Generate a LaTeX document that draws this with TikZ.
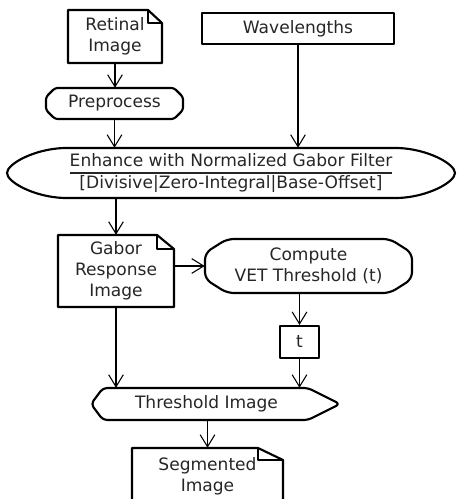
\documentclass[tikz,border=0pt]{standalone}
\usepackage{fontspec}
\setmainfont{DejaVu Sans}
\usetikzlibrary{arrows.meta}
\setlength{\arrayrulewidth}{0.8pt}

\begin{document}
\begin{tikzpicture}[x=0.75pt,y=0.75pt,yscale=-1,xscale=1,
  txt/.style={font=\fontsize{12.8}{15.75}\selectfont, text=black!85, align=center, inner sep=0pt},
  outline/.style={line width=1.6pt, line join=round},
  flow/.style={line width=0.8pt, -{Straight Barb[length=9pt,width=11pt]}}]
%set diagram left start at 0, and has height of 499
\useasboundingbox (0,0) rectangle (458,499);
\clip (0,0) rectangle (458,499);

%Shape: Document [id:retinal]
\draw[outline] (68,10) -- (148,10) -- (162,23) -- (162,63) -- (68,63) -- cycle;
\draw[outline] (148,10) |- (162,23);
%Shape: Process [id:preproc]
\draw[outline, rounded corners=2pt] (55,88) -- (174,88) -- (183,97) -- (183,110) -- (174,119) -- (55,119) -- (46,110) -- (46,97) -- cycle;
%Shape: Process [id:enhance]
\draw[outline] (64,148) -- (398,148) .. controls (428,149) and (455,164) .. (455,173) .. controls (455,182) and (428,197) .. (398,198) -- (64,198) .. controls (34,197) and (7,182) .. (7,173) .. controls (7,164) and (34,149) .. cycle;
%Shape: Document [id:gabor]
\draw[outline] (58,235) -- (157,235) -- (174,249) -- (174,307) -- (58,307) -- cycle;
\draw[outline] (157,235) |- (174,249);
%Shape: Process [id:compute]
\draw[outline, rounded corners=5pt] (227,239) -- (390,239) -- (412,253) -- (412,279) -- (390,293) -- (227,293) -- (205,279) -- (205,253) -- cycle;
%Shape: Process [id:thresh]
\draw[outline, rounded corners=3pt] (103,388) -- (308,388) -- (340,404) -- (308,420) -- (103,420) -- (91,404) -- cycle;
%Shape: Document [id:segm]
\draw[outline] (132,448) -- (258,448) -- (283,460) -- (283,510) -- (132,510) -- cycle;
\draw[outline] (258,448) |- (283,460);

% Text Node
\node[txt, minimum width=70.5pt, minimum height=39.75pt] (retinal) at (115,36.5) {Retinal\\Image};
% Text Node
\node[txt, draw, outline, minimum width=144pt, minimum height=23.25pt] (wavelen) at (298,28.5) {Wavelengths};
% Text Node
\node[txt, minimum width=102.75pt, minimum height=23.25pt] (preproc) at (114.5,103.5) {Preprocess};
% Text Node
\node[txt, minimum width=336pt, minimum height=37.5pt] (enhance) at (231,173) {\begin{tabular}{@{}c@{}}Enhance with Normalized Gabor Filter\\\hline {[}Divisive|Zero-Integral|Base-Offset{]}\end{tabular}};
% Text Node
\node[txt, minimum width=87pt, minimum height=54pt] (gabor) at (116,271) {Gabor\\Response\\Image};
% Text Node
\node[txt, minimum width=155.25pt, minimum height=40.5pt] (compute) at (308.5,266) {Compute\\VET Threshold (t)};
% Text Node
\node[txt, draw, outline, minimum width=29.25pt, minimum height=24pt] (tval) at (299.5,342) {t};
% Text Node
\node[txt, minimum width=153.75pt, minimum height=24pt] (thresh) at (206.5,404) {Threshold Image};
% Text Node
\node[txt, minimum width=113.25pt, minimum height=42pt] (segm) at (207.5,476) {Segmented\\Image};

%Straight Lines
\draw[flow] (retinal.south) -- (retinal.south |- preproc.north);
\draw[flow] (preproc.south) -- (preproc.south |- enhance.north);
\draw[flow] (wavelen.south) -- (wavelen.south |- enhance.north);
\draw[flow] (gabor.north |- enhance.south) -- (gabor.north);
\draw[flow] (gabor.east |- compute.west) -- (compute.west);
\draw[flow] (tval.north |- compute.south) -- (tval.north);
\draw[flow] (gabor.south) -- (gabor.south |- thresh.north);
\draw[flow] (tval.south) -- (tval.south |- thresh.north);
\draw[flow] (segm.north |- thresh.south) -- (segm.north);

\end{tikzpicture}
\end{document}
